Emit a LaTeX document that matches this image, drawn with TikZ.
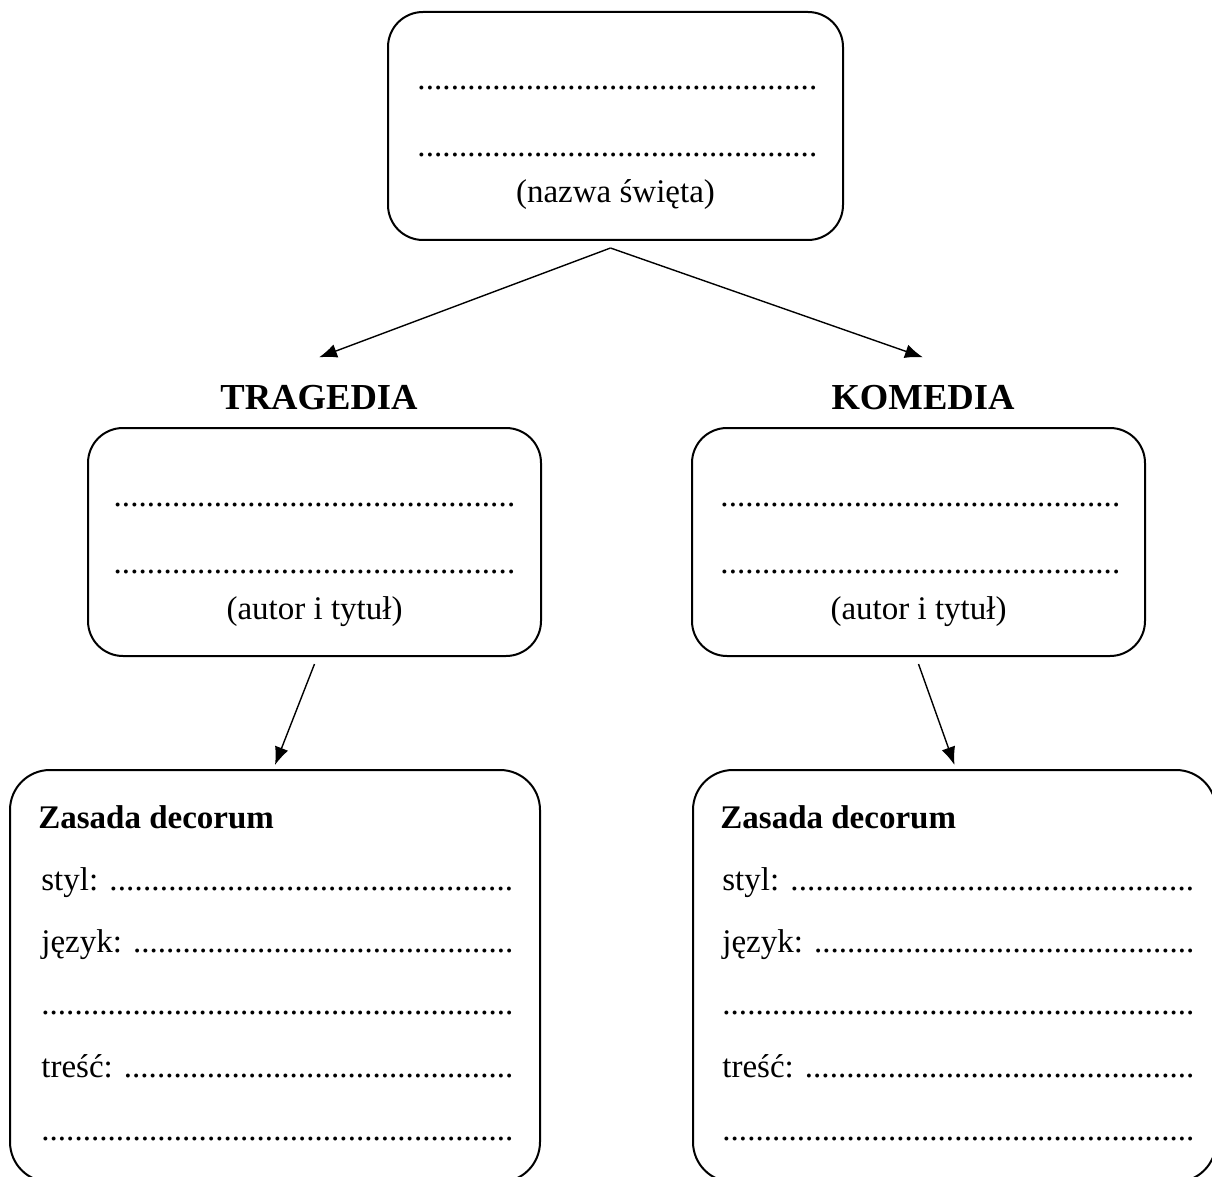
\documentclass[tikz,border=0pt]{standalone}
\usepackage{fontspec}
\setmainfont{Liberation Serif}
\usetikzlibrary{arrows.meta}

\newcommand{\kropki}[1]{\makebox[#1]{\xleaders\hbox{.}\hfill}}
\newcommand{\wiersz}[2]{\makebox[#2]{#1\xleaders\hbox{.}\hfill}}

\tikzset{
  ramka/.style={draw, line width=1pt, rounded corners=17.5pt, inner sep=0pt},
  wpis/.style={inner sep=0pt, font=\fontsize{16.5}{20}\selectfont},
  naglowek/.style={inner sep=0pt, anchor=base, font=\fontsize{18.3}{22}\selectfont\bfseries},
  strz/.style={-{Latex[length=9pt,width=7pt]}, line width=0.7pt},
}

\begin{document}
\begin{tikzpicture}[x=0.5pt,y=-0.5pt]
\useasboundingbox (0,0) rectangle (1212,1177);
\clip (0,0) rectangle (1212,1177);

% ramki
\node[ramka, minimum width=227.5pt, minimum height=114pt] (top) at (615.5,126) {};
\node[ramka, minimum width=226.5pt, minimum height=114pt] (midL) at (314.5,542) {};
\node[ramka, minimum width=226.5pt, minimum height=114pt] (midR) at (918.5,542) {};
\node[ramka, rounded corners=20pt, minimum width=265pt, minimum height=206pt] (lowL) at (275,976) {};
\node[ramka, rounded corners=20pt, minimum width=261.5pt, minimum height=206pt] (lowR) at (954.5,976) {};

% swieto
\node[wpis, anchor=base west] (t1) at (417,90) {\kropki{200pt}};
\node[wpis, anchor=base west] (t2) at (417,157) {\kropki{200pt}};
\node[wpis, anchor=base] (t3) at (615.5,203) {(nazwa święta)};

% naglowki
\node[naglowek] (trag) at (319,409) {TRAGEDIA};
\node[naglowek] (kom) at (923,409) {KOMEDIA};

% autor i tytul
\node[wpis, anchor=base west] (a1) at (113,506) {\kropki{201pt}};
\node[wpis, anchor=base west] (a2) at (113,573) {\kropki{201pt}};
\node[wpis, anchor=base] (a3) at (314.5,619) {(autor i tytuł)};
\node[wpis, anchor=base west] (b1) at (720,506) {\kropki{200pt}};
\node[wpis, anchor=base west] (b2) at (720,573) {\kropki{200pt}};
\node[wpis, anchor=base] (b3) at (918.5,619) {(autor i tytuł)};

% decorum
\node[wpis, anchor=base west, font=\fontsize{16.5}{20}\selectfont\bfseries] (d0) at (38,828) {Zasada decorum};
\node[wpis, anchor=base west] (d1) at (41,890) {\wiersz{styl: }{236pt}};
\node[wpis, anchor=base west] (d2) at (41,952) {\wiersz{język: }{236pt}};
\node[wpis, anchor=base west] (d3) at (41,1014) {\kropki{236pt}};
\node[wpis, anchor=base west] (d4) at (41,1077) {\wiersz{treść: }{236pt}};
\node[wpis, anchor=base west] (d5) at (41,1140) {\kropki{236pt}};
\node[wpis, anchor=base west, font=\fontsize{16.5}{20}\selectfont\bfseries] (e0) at (720,828) {Zasada decorum};
\node[wpis, anchor=base west] (e1) at (722,890) {\wiersz{styl: }{236pt}};
\node[wpis, anchor=base west] (e2) at (722,952) {\wiersz{język: }{236pt}};
\node[wpis, anchor=base west] (e3) at (722,1014) {\kropki{236pt}};
\node[wpis, anchor=base west] (e4) at (722,1077) {\wiersz{treść: }{236pt}};
\node[wpis, anchor=base west] (e5) at (722,1140) {\kropki{236pt}};

% strzalki
\draw[strz] ([xshift=-2.5pt,yshift=-3.5pt]top.south) -- ([yshift=13.5pt]trag.north);
\draw[strz] ([xshift=-2.5pt,yshift=-3.5pt]top.south) -- ([yshift=13.5pt]kom.north);
\draw[strz] ([yshift=-3.5pt]midL.south) -- ([yshift=2pt]lowL.north);
\draw[strz] ([yshift=-3.5pt]midR.south) -- ([yshift=2pt]lowR.north);
\end{tikzpicture}
\end{document}
